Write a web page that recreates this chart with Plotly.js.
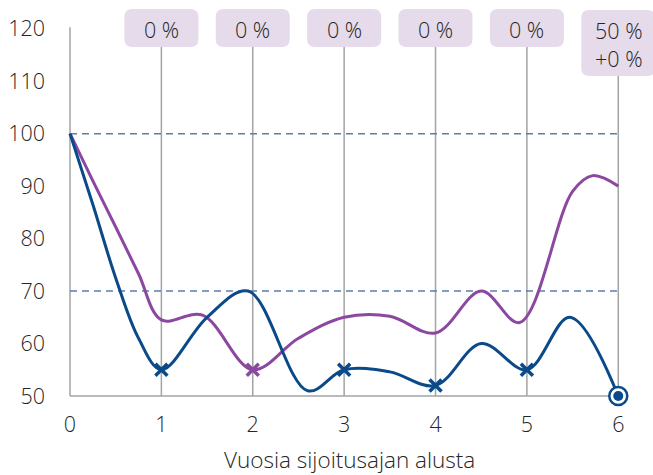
<!DOCTYPE html>
<html>
<head>
<meta charset="utf-8">
<script src="https://cdn.plot.ly/plotly-3.0.1.min.js"></script>
<style>html,body{margin:0;padding:0;background:#fff;}#chart{width:653px;height:475px;}</style>
</head>
<body>
<div id="chart"></div>
<script>
// ---- data ----
const years = [0, 1, 2, 3, 4, 5, 6];
const yTicks = [50, 60, 70, 80, 90, 100, 110, 120];
const boxLabels = ['0 %', '0 %', '0 %', '0 %', '0 %', '50 %<br>+0 %'];
const boxYears = [1, 2, 3, 4, 5, 6];
const refLevels = [100, 70];

const blueX = [0, 0.25, 0.5, 0.75, 1, 1.5, 1.95, 2.6, 3, 3.5, 4, 4.5, 5, 5.47, 6];
const blueY = [100, 86.5, 72.5, 61, 55, 65, 70, 51, 55, 54.6, 52, 60, 55, 65, 50];
const purpleX = [0, 0.25, 0.5, 0.75, 1, 1.45, 2, 2.5, 3, 3.5, 4, 4.5, 4.92, 5.5, 5.72, 6];
const purpleY = [100, 91, 82.2, 73.3, 64.5, 65.4, 55, 61, 65, 65.2, 62, 70, 64, 89, 92, 90];

const blueMarkX = [1, 3, 4, 5];
const blueMarkY = [55, 55, 52, 55];
const purpleMarkX = [2];
const purpleMarkY = [55];
const endX = [6];
const endY = [50];

// ---- styles ----
const BLUE = '#0a4a89';
const PURPLE = '#8c47a0';
const GRAY = '#a3a3a3';
const DASH = '#5b7db0';
const BOXFILL = '#e6dbeb';
const TXT = '#262626';
const FONT = 'Open Sans, sans-serif';
const FS = 21.5;
const FW = 300;

const plotH = 407; // px height of plot area
const pxToPaper = px => (plotH - px) / plotH;
const xUnit = 91.38;

const traces = [
  {x: purpleX, y: purpleY, mode: 'lines', line: {color: PURPLE, width: 3, shape: 'spline', smoothing: 1}, hoverinfo: 'skip'},
  {x: blueX, y: blueY, mode: 'lines', line: {color: BLUE, width: 3, shape: 'spline', smoothing: 1}, hoverinfo: 'skip'},
  {x: blueMarkX, y: blueMarkY, mode: 'markers', marker: {symbol: 'x-thin-open', size: 12, color: BLUE, line: {color: BLUE, width: 3.5}}, cliponaxis: false},
  {x: purpleMarkX, y: purpleMarkY, mode: 'markers', marker: {symbol: 'x-thin-open', size: 12, color: PURPLE, line: {color: PURPLE, width: 3.5}}, cliponaxis: false},
  {x: endX, y: endY, mode: 'markers', marker: {symbol: 'circle', size: 18, color: '#ffffff', line: {color: BLUE, width: 2.5}}, cliponaxis: false},
  {x: endX, y: endY, mode: 'markers', marker: {symbol: 'circle', size: 10, color: BLUE, line: {width: 0}}, cliponaxis: false}
];

const shapes = [];
shapes.push({type: 'line', xref: 'x', yref: 'y', x0: 0, x1: 0, y0: 50, y1: 120.3, line: {color: GRAY, width: 1.5}, layer: 'below'});
shapes.push({type: 'line', xref: 'x', yref: 'y', x0: 0, x1: 6, y0: 50, y1: 50, line: {color: GRAY, width: 1.5}, layer: 'below'});
refLevels.forEach(v => shapes.push({type: 'line', xref: 'x', yref: 'y', x0: 0, x1: 6, y0: v, y1: v, line: {color: DASH, width: 1.5, dash: '7px,5px'}, layer: 'below'}));

const annotations = [];
boxYears.forEach((yr, i) => {
  const last = i === boxYears.length - 1;
  const topPx = last ? 10 : 9;
  const botPx = last ? 76 : 47;
  const yTop = pxToPaper(topPx), yBot = pxToPaper(botPx);
  const hw = 37 / xUnit;
  const rx = 8 / xUnit, ry = 8 / plotH;
  const x0 = yr - hw, x1 = yr + hw;
  const path = `M ${x0 + rx},${yTop} L ${x1 - rx},${yTop} Q ${x1},${yTop} ${x1},${yTop - ry} L ${x1},${yBot + ry} Q ${x1},${yBot} ${x1 - rx},${yBot} L ${x0 + rx},${yBot} Q ${x0},${yBot} ${x0},${yBot + ry} L ${x0},${yTop - ry} Q ${x0},${yTop} ${x0 + rx},${yTop} Z`;
  shapes.push({type: 'path', xref: 'x', yref: 'paper', path: path, fillcolor: BOXFILL, line: {width: 0}, layer: 'below'});
  shapes.push({type: 'line', xref: 'x', yref: 'paper', x0: yr, x1: yr, y0: pxToPaper(396), y1: yBot, line: {color: GRAY, width: 1.5}, layer: 'below'});
  annotations.push({xref: 'x', yref: 'paper', x: yr, y: (yTop + yBot) / 2 - 0.003, text: boxLabels[i], showarrow: false, xanchor: 'center', yanchor: 'middle', font: {family: FONT, size: FS, color: TXT, weight: FW}});
});

annotations.push({xref: 'x', yref: 'paper', x: 3.06, y: pxToPaper(459), text: 'Vuosia sijoitusajan alusta', showarrow: false, xanchor: 'center', yanchor: 'middle', borderpad: 0, font: {family: FONT, size: 22.5, color: TXT, weight: FW}});

const layout = {
  width: 653, height: 475,
  margin: {l: 61, r: 0, t: 0, b: 68, pad: 0},
  paper_bgcolor: '#ffffff', plot_bgcolor: '#ffffff',
  showlegend: false,
  font: {family: FONT, size: FS, color: TXT, weight: FW},
  xaxis: {range: [-9 / xUnit, -9 / xUnit + 592 / xUnit], tickvals: years, ticktext: years.map(String), tickfont: {family: FONT, size: FS, color: TXT, weight: FW}, showgrid: false, zeroline: false, showline: false, ticks: '', ticklabelstandoff: 2, fixedrange: true},
  yaxis: {range: [47.904, 125.47], tickvals: yTicks, ticktext: yTicks.map(String), tickfont: {family: FONT, size: FS, color: TXT, weight: FW}, showgrid: false, zeroline: false, showline: false, ticks: '', ticklabelstandoff: 15, fixedrange: true},
  shapes: shapes,
  annotations: annotations
};

Plotly.newPlot('chart', traces, layout, {displayModeBar: false, staticPlot: true});
</script>
</body>
</html>
